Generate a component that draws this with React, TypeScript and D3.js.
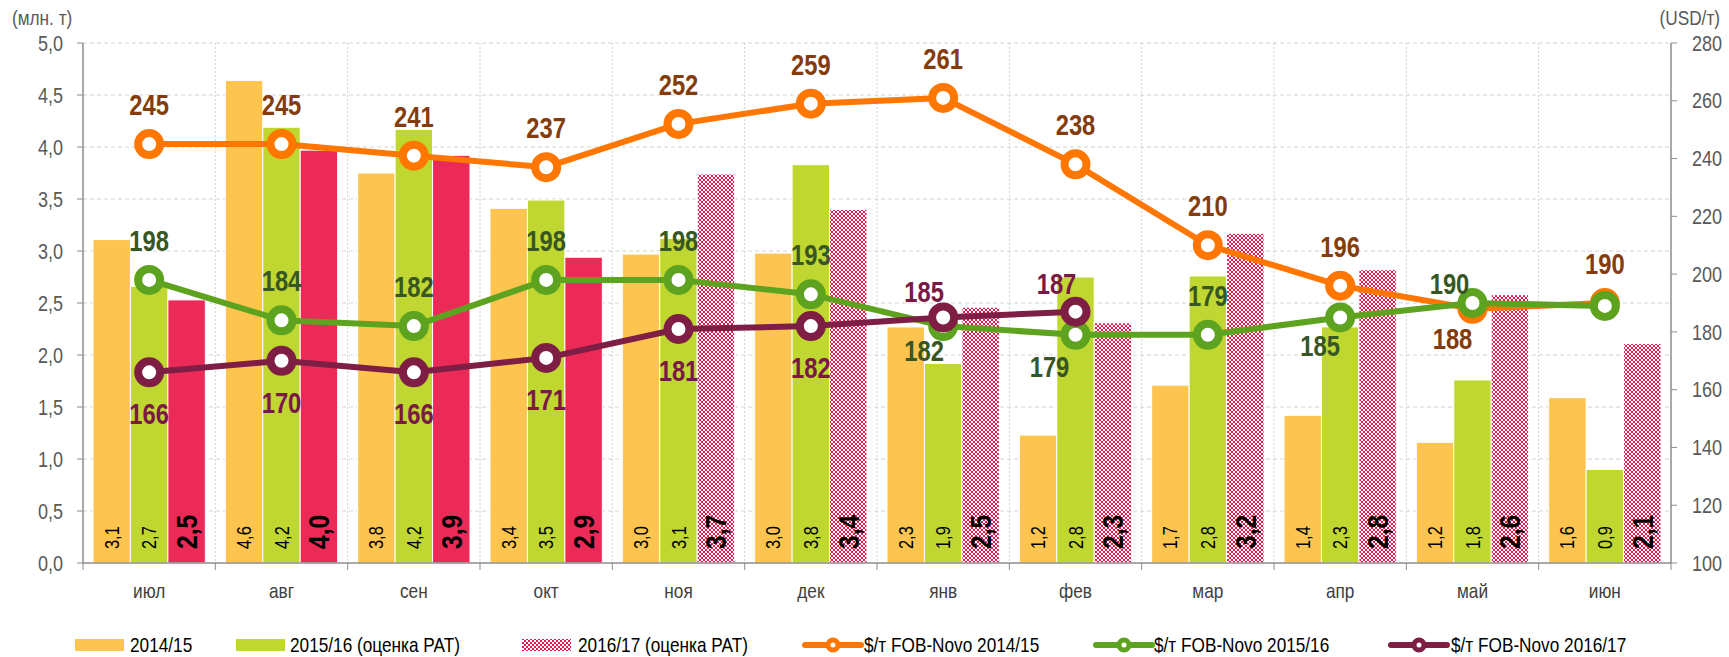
import React from "react";
import * as d3 from "d3";

const months = ["июл", "авг", "сен", "окт", "ноя", "дек", "янв", "фев", "мар", "апр", "май", "июн"];

// объёмы экспорта, млн. т
const vol1415 = [3.11, 4.64, 3.75, 3.41, 2.97, 2.98, 2.27, 1.23, 1.71, 1.42, 1.16, 1.59];
const vol1516 = [2.66, 4.19, 4.17, 3.49, 3.12, 3.83, 1.92, 2.75, 2.76, 2.27, 1.76, 0.9];
const vol1617 = [2.53, 3.97, 3.92, 2.94, 3.74, 3.4, 2.46, 2.31, 3.17, 2.82, 2.58, 2.11];

// цены $/т FOB-Novo
const price1415 = [245, 245, 241, 237, 252, 259, 261, 238, 210, 196, 188, 190];
const price1516 = [198, 184, 182, 198, 198, 193, 182, 179, 179, 185, 190, 189];
const price1617 = [166, 170, 166, 171, 181, 182, 185, 187];

const leftTicks = [0, 0.5, 1, 1.5, 2, 2.5, 3, 3.5, 4, 4.5, 5];
const rightTicks = [100, 120, 140, 160, 180, 200, 220, 240, 260, 280];

// label placement: "t" above, "b" below, "" none
const place1415 = ["t", "t", "t", "t", "t", "t", "t", "t", "t", "t", "b", "t"];
const place1516 = ["t", "t", "t", "t", "t", "t", "b", "b", "t", "b", "t", ""];
const place1617 = ["b", "b", "b", "b", "b", "b", "t", "t"];

// small hand nudges where labels collide (layout only)
const nudge: Record<string, [number, number]> = {
  "o10": [-20, 40],
  "g6": [-19, 35],
  "g7": [-26, 42],
  "g9": [-20, 39],
  "g10": [-23, -9],
  "m6": [-19, -15],
  "m7": [-19, -18],
};

// Arial Narrow look: regular sans squeezed horizontally
const FONT = "'Liberation Sans', Arial, sans-serif";
const SQ = 0.82;
const W = 1729;
const H = 657;
const margin = { top: 43, right: 58, bottom: 94, left: 83 };
const plotW = W - margin.left - margin.right;
const plotH = H - margin.top - margin.bottom;

const YELLOW = "#FDC54F";
const LIME = "#BFD730";
const RED = "#EC2A58";

const lineSeries = [
  { key: "o", name: "$/т FOB-Novo 2014/15", values: price1415, place: place1415, color: "#FF7600", text: "#843C0C" },
  { key: "g", name: "$/т FOB-Novo 2015/16", values: price1516, place: place1516, color: "#5EA320", text: "#375623" },
  { key: "m", name: "$/т FOB-Novo 2016/17", values: price1617, place: place1617, color: "#7E1E44", text: "#7A1846" },
];

const barSeries = [
  { name: "2014/15", values: vol1415, fill: YELLOW, bold: false },
  { name: "2015/16 (оценка РАТ)", values: vol1516, fill: LIME, bold: false },
  { name: "2016/17 (оценка РАТ)", values: vol1617, fill: RED, bold: true },
];

function NT(props: any) {
  const { x, y, rot, children, ...rest } = props;
  const r = rot ? ` rotate(${rot})` : "";
  return (
    <text transform={`translate(${x},${y})${r} scale(${SQ},1)`} {...rest}>
      {children}
    </text>
  );
}

export default function App() {
  const x = d3.scaleBand<string>().domain(months).range([0, plotW]).paddingInner(0).paddingOuter(0);
  const inner = d3
    .scaleBand<number>()
    .domain([0, 1, 2])
    .range([10, x.bandwidth() - 10])
    .padding(0);
  const yL = d3.scaleLinear().domain([0, 5]).range([plotH, 0]);
  const yR = d3.scaleLinear().domain([100, 280]).range([plotH, 0]);

  const lineGen = d3
    .line<number>()
    .x((_, i) => x(months[i])! + x.bandwidth() / 2)
    .y((d) => yR(d));

  const fmt = (v: number) => v.toFixed(1).replace(".", ",");

  const legendBars = [
    { x: 75, tx: 130 },
    { x: 236, tx: 290 },
    { x: 522, tx: 578 },
  ];
  const legendLines = [
    { x: 805, tx: 864 },
    { x: 1096, tx: 1154 },
    { x: 1391, tx: 1451 },
  ];

  return (
    <svg
      width={W}
      height={H}
      style={{ position: "absolute", left: 0, top: 0, display: "block", background: "#fff" }}
      fontFamily={FONT}
    >
      <defs>
        <pattern id="chk" width="4" height="4" patternUnits="userSpaceOnUse">
          <rect width="4" height="4" fill="#fff" />
          <rect width="2" height="2" fill="#E5174E" />
          <rect x="2" y="2" width="2" height="2" fill="#E5174E" />
        </pattern>
      </defs>

      {/* axis titles */}
      <NT x={12} y={25} fontSize={21} fill="#595959">(млн. т)</NT>
      <NT x={1720} y={25} fontSize={21} fill="#595959" textAnchor="end">(USD/т)</NT>

      <g transform={`translate(${margin.left},${margin.top})`}>
        {/* grid */}
        {leftTicks.slice(1).map((t) => (
          <line key={"h" + t} x1={0} x2={plotW} y1={yL(t)} y2={yL(t)} stroke="#D4D4D4" strokeDasharray="4,3" />
        ))}
        {months.map((m, i) =>
          i === 0 ? null : (
            <line key={"v" + m} x1={x(m)} x2={x(m)} y1={0} y2={plotH} stroke="#D0D0D0" strokeDasharray="2,2" />
          )
        )}

        {/* bars */}
        {barSeries.map((s, si) =>
          s.values.map((v, i) => {
            const bx = x(months[i])! + inner(si)!;
            const hatched = si === 2 && i >= 4;
            return (
              <rect
                key={s.name + i}
                x={bx}
                y={yL(v)}
                width={inner.bandwidth()}
                height={plotH - yL(v)}
                fill={hatched ? "url(#chk)" : s.fill}
                stroke="#fff"
                strokeWidth={1}
              />
            );
          })
        )}

        {/* bar labels */}
        {barSeries.map((s, si) =>
          s.values.map((v, i) => {
            const cx = x(months[i])! + inner(si)! + inner.bandwidth() / 2;
            return (
              <NT
                key={"bl" + si + i}
                x={cx}
                y={plotH - 14}
                rot={-90}
                dominantBaseline="central"
                fontSize={s.bold ? 30 : 20}
                fontWeight={s.bold ? "bold" : "normal"}
                fill="#000"
              >
                {fmt(v)}
              </NT>
            );
          })
        )}

        {/* axes */}
        <line x1={0} x2={0} y1={0} y2={plotH} stroke="#8C8C8C" strokeWidth={1.5} />
        <line x1={plotW} x2={plotW} y1={0} y2={plotH} stroke="#8C8C8C" strokeWidth={1.5} />
        <line x1={0} x2={plotW} y1={plotH} y2={plotH} stroke="#8C8C8C" strokeWidth={1.5} />
        {leftTicks.map((t) => (
          <g key={"lt" + t}>
            <line x1={-6} x2={0} y1={yL(t)} y2={yL(t)} stroke="#8C8C8C" />
            <NT x={-20} y={yL(t)} dominantBaseline="central" textAnchor="end" fontSize={22} fill="#595959">
              {fmt(t)}
            </NT>
          </g>
        ))}
        {rightTicks.map((t) => (
          <g key={"rt" + t}>
            <line x1={plotW} x2={plotW + 6} y1={yR(t)} y2={yR(t)} stroke="#8C8C8C" />
            <NT x={plotW + 21} y={yR(t)} dominantBaseline="central" fontSize={22} fill="#595959">
              {t}
            </NT>
          </g>
        ))}
        {months.map((m, i) => (
          <g key={"ct" + m}>
            <line x1={x(m)} x2={x(m)} y1={plotH} y2={plotH + 7} stroke="#8C8C8C" />
            {i === months.length - 1 && (
              <line x1={plotW} x2={plotW} y1={plotH} y2={plotH + 7} stroke="#8C8C8C" />
            )}
            <NT x={x(m)! + x.bandwidth() / 2} y={plotH + 35} textAnchor="middle" fontSize={21} fill="#404040">
              {m}
            </NT>
          </g>
        ))}

        {/* lines */}
        {lineSeries.map((s) => (
          <g key={s.key}>
            <path d={lineGen(s.values) ?? ""} fill="none" stroke={s.color} strokeWidth={6} strokeLinejoin="round" />
            {s.values.map((v, i) => (
              <circle
                key={i}
                cx={x(months[i])! + x.bandwidth() / 2}
                cy={yR(v)}
                r={11}
                fill="#fff"
                stroke={s.color}
                strokeWidth={8}
              />
            ))}
          </g>
        ))}
        {lineSeries.map((s) =>
          s.values.map((v, i) => {
            const p = s.place[i];
            if (!p) return null;
            const n = nudge[s.key + i];
            const dx = n ? n[0] : 0;
            const dy = n ? n[1] : p === "t" ? -29 : 52;
            return (
              <NT
                key={"ll" + s.key + i}
                x={x(months[i])! + x.bandwidth() / 2 + dx}
                y={yR(v) + dy}
                textAnchor="middle"
                fontSize={29}
                fontWeight="bold"
                fill={s.text}
              >
                {v}
              </NT>
            );
          })
        )}
      </g>

      {/* legend */}
      {barSeries.map((s, i) => (
        <g key={"lg" + i}>
          <rect
            x={legendBars[i].x}
            y={639}
            width={49}
            height={12}
            fill={i === 2 ? "url(#chk)" : s.fill}
          />
          <NT x={legendBars[i].tx} y={645} dominantBaseline="central" fontSize={21} fill="#000">
            {s.name}
          </NT>
        </g>
      ))}
      {lineSeries.map((s, i) => (
        <g key={"ll" + i}>
          <line x1={legendLines[i].x} x2={legendLines[i].x + 56} y1={645} y2={645} stroke={s.color} strokeWidth={6} strokeLinecap="round" />
          <circle cx={legendLines[i].x + 28} cy={645} r={5} fill="#fff" stroke={s.color} strokeWidth={5} />
          <NT x={legendLines[i].tx} y={645} dominantBaseline="central" fontSize={21} fill="#000">
            {s.name}
          </NT>
        </g>
      ))}
    </svg>
  );
}
